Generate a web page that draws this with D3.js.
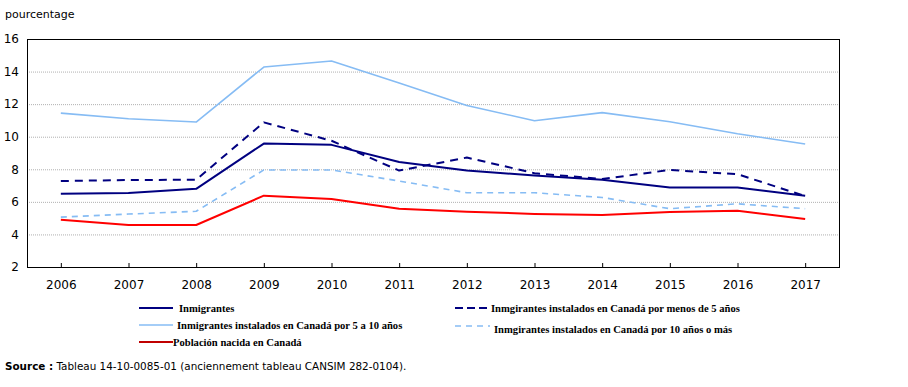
<!DOCTYPE html>
<html><head><meta charset="utf-8">
<script src="https://cdn.jsdelivr.net/npm/d3@7"></script>
<style>body{margin:0;background:#fff}svg{display:block}</style>
</head><body>
<svg id="c" width="908" height="387"></svg>
<script>
const years = ["2006","2007","2008","2009","2010","2011","2012","2013","2014","2015","2016","2017"];
const inmigrantes = [6.5,6.55,6.8,9.58,9.5,8.45,7.92,7.62,7.36,6.88,6.88,6.38];
const menos5 = [7.28,7.34,7.36,10.88,9.75,7.92,8.72,7.76,7.4,7.96,7.7,6.35];
const de5a10 = [11.45,11.1,10.9,14.28,14.65,13.3,11.92,10.98,11.48,10.92,10.18,9.55];
const mas10 = [5.06,5.25,5.42,7.96,7.96,7.28,6.56,6.56,6.27,5.58,5.88,5.58];
const nacida = [4.9,4.58,4.58,6.38,6.18,5.57,5.4,5.26,5.2,5.38,5.45,4.95];
const yTicks = [2,4,6,8,10,12,14,16];
const seriesNames = ["Inmigrantes","Inmigrantes instalados en Canadá por 5 a 10 años","Población nacida en Canadá","Inmgirantes instalados en Canadá por menos de 5 años","Inmgirantes instalados en Canadá por 10 años o más"];

const svg = d3.select("#c");
const L=27,R=839,T=39,B=267;
const x = d3.scalePoint().domain(years).range([L,R]).padding(0.5);
const y = d3.scaleLinear().domain([2,16]).range([B,T]);
const font = "'DejaVu Sans', Verdana, sans-serif";

// grid
svg.append("g").selectAll("line").data(yTicks.filter(d=>d>2&&d<16)).join("line")
  .attr("x1",L).attr("x2",R).attr("y1",d=>y(d)+0.5).attr("y2",d=>y(d)+0.5)
  .attr("stroke","#b0b0b0").attr("stroke-width",1).attr("stroke-dasharray","1,1");

// axes
const ya = svg.append("g").attr("transform",`translate(${L},0)`)
  .call(d3.axisLeft(y).tickValues(yTicks).tickSize(0).tickPadding(8));
ya.select(".domain").remove();
ya.selectAll("text").attr("font-family",font).attr("font-size",12).attr("fill","#000");
const xa = svg.append("g").attr("transform",`translate(0,${B})`)
  .call(d3.axisBottom(x).tickSize(-4).tickPadding(13));
xa.select(".domain").remove();
xa.selectAll("text").attr("font-family",font).attr("font-size",12).attr("fill","#000");
xa.selectAll("line").attr("stroke","#000");

svg.append("rect").attr("x",L+0.5).attr("y",T+0.5).attr("width",R-L).attr("height",B-T)
  .attr("fill","none").attr("stroke","#000").attr("stroke-width",1);

const lightBlue="#86bcf4", navy="#000080", red="#ff0000";
const styles = [
  {d:de5a10,c:lightBlue,w:1.6,dash:null},
  {d:mas10,c:lightBlue,w:1.6,dash:"6,5"},
  {d:nacida,c:red,w:2,dash:null},
  {d:inmigrantes,c:navy,w:2,dash:null},
  {d:menos5,c:navy,w:2,dash:"8,6"}
];
const line = d3.line().x((d,i)=>x(years[i])).y(d=>y(d));
styles.forEach(s=>{
  svg.append("path").datum(s.d).attr("d",line).attr("fill","none")
    .attr("stroke",s.c).attr("stroke-width",s.w).attr("stroke-dasharray",s.dash)
    .attr("stroke-linejoin","round");
});

// labels
svg.append("text").attr("x",5).attr("y",18).attr("font-family",font).attr("font-size",11).text("pourcentage");
const src = svg.append("text").attr("x",5).attr("y",370).attr("font-family",font).attr("font-size",10.4);
src.append("tspan").attr("font-weight","bold").text("Source :");
src.append("tspan").text(" Tableau 14-10-0085-01 (anciennement tableau CANSIM 282-0104).");

// legend
const serif = "'Liberation Serif','Times New Roman',serif";
const leg = [
  {n:seriesNames[0],c:navy,w:2,dash:null,x1:139,x2:173,ly:308,tx:179,ty:312},
  {n:seriesNames[1],c:lightBlue,w:1.6,dash:null,x1:139,x2:173,ly:325,tx:177,ty:329},
  {n:seriesNames[2],c:"#c00000",w:2,dash:null,x1:139,x2:173,ly:342,tx:173,ty:346},
  {n:seriesNames[3],c:navy,w:2,dash:"8,4",x1:455,x2:490,ly:308,tx:491,ty:312},
  {n:seriesNames[4],c:lightBlue,w:1.6,dash:"6,5",x1:455,x2:490,ly:326,tx:494,ty:333}
];
leg.forEach(l=>{
  svg.append("line").attr("x1",l.x1).attr("x2",l.x2).attr("y1",l.ly).attr("y2",l.ly)
    .attr("stroke",l.c).attr("stroke-width",l.w).attr("stroke-dasharray",l.dash);
  svg.append("text").attr("x",l.tx).attr("y",l.ty).attr("font-family",serif)
    .attr("font-size",10.6).attr("font-weight","bold").text(l.n);
});
</script>
</body></html>
